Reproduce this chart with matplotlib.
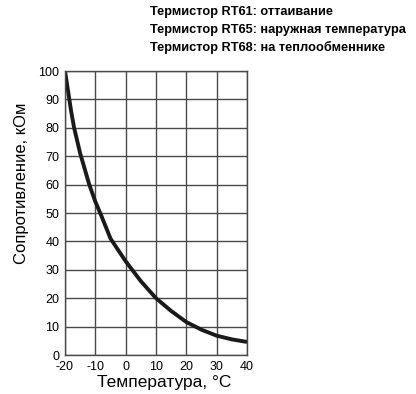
import matplotlib
matplotlib.use('Agg')
import matplotlib.pyplot as plt

plt.rcParams['font.family'] = ['Liberation Sans', 'DejaVu Sans']
plt.rcParams['axes.unicode_minus'] = False

# resistance curve
temps = [-20, -18, -17, -15, -12, -10, -8, -5, 0, 5, 10, 15, 20, 25, 30, 35, 40]
res = [100, 86, 80, 71, 60, 54, 49, 41, 33, 26, 20, 15.5, 11.6, 8.9, 6.8, 5.5, 4.6]

xticks = [-20, -10, 0, 10, 20, 30, 40]
yticks = [0, 10, 20, 30, 40, 50, 60, 70, 80, 90, 100]

title_lines = ['Термистор RT61: оттаивание',
               'Термистор RT65: наружная температура',
               'Термистор RT68: на теплообменнике']

fig = plt.figure(figsize=(4.16, 3.94), dpi=100)
ax = fig.add_axes([65/416, 1-355/394, (247-65)/416, (355-71)/394])

ax.plot(temps, res, color='#1a1a1a', lw=2.8, solid_capstyle='butt')
ax.set_xlim(-20, 40)
ax.set_ylim(0, 100)
ax.set_xticks(xticks)
ax.set_yticks(yticks)
ax.grid(True, color='#4a4a4a', lw=1.0)
for s in ax.spines.values():
    s.set_color('#4a4a4a')
    s.set_linewidth(1.0)
ax.tick_params(length=0, labelsize=9, pad=4)
ax.set_xlabel('Температура, °C', fontsize=12.5, va='center')
ax.xaxis.set_label_coords((164-65)/182, (355-382)/284)
ax.set_ylabel('Сопротивление, кОм', fontsize=12, va='center')
ax.yaxis.set_label_coords((22-65)/182, (355-183)/284)

for i, t in enumerate(title_lines):
    fig.text(150/416, 1-(12+i*17.5)/394, t, fontsize=9.2, fontweight='bold',
             va='center', ha='left')

fig.savefig('out.png', dpi=100)
